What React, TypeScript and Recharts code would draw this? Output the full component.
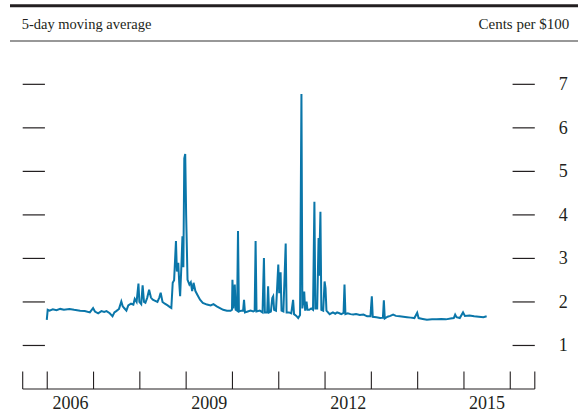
import { LineChart, Line, XAxis, YAxis, ReferenceLine } from "recharts";

const years = [
  2005.99, 2006.01, 2006.05, 2006.12, 2006.2, 2006.28, 2006.36, 2006.48, 2006.58, 2006.71,
  2006.81, 2006.92, 2006.99, 2007.03, 2007.1, 2007.17, 2007.23, 2007.28, 2007.35, 2007.41,
  2007.45, 2007.49, 2007.55, 2007.6, 2007.63, 2007.67, 2007.71, 2007.75, 2007.81, 2007.86,
  2007.89, 2007.93, 2007.97, 2007.99, 2008.03, 2008.06, 2008.09, 2008.12, 2008.16, 2008.2,
  2008.24, 2008.28, 2008.32, 2008.38, 2008.42, 2008.45, 2008.49, 2008.54, 2008.6, 2008.65,
  2008.68, 2008.71, 2008.74, 2008.78, 2008.8, 2008.83, 2008.85, 2008.87, 2008.9, 2008.92,
  2008.94, 2008.96, 2008.98, 2009.0, 2009.03, 2009.07, 2009.1, 2009.13, 2009.16, 2009.2,
  2009.25, 2009.3, 2009.36, 2009.45, 2009.53, 2009.59, 2009.66, 2009.73, 2009.8, 2009.88,
  2009.96, 2009.99, 2010.0, 2010.02, 2010.05, 2010.07, 2010.1, 2010.12, 2010.14, 2010.19,
  2010.23, 2010.25, 2010.27, 2010.33, 2010.39, 2010.45, 2010.48, 2010.5, 2010.52, 2010.59,
  2010.65, 2010.68, 2010.7, 2010.75, 2010.77, 2010.79, 2010.83, 2010.86, 2010.88, 2010.9,
  2010.94, 2010.99, 2011.01, 2011.04, 2011.06, 2011.1, 2011.15, 2011.17, 2011.22, 2011.27,
  2011.31, 2011.33, 2011.38, 2011.42, 2011.46, 2011.49, 2011.51, 2011.55, 2011.57, 2011.6,
  2011.62, 2011.66, 2011.7, 2011.74, 2011.77, 2011.79, 2011.83, 2011.86, 2011.87, 2011.9,
  2011.92, 2011.96, 2011.99, 2012.01, 2012.03, 2012.1, 2012.17, 2012.22, 2012.26, 2012.31,
  2012.35, 2012.4, 2012.42, 2012.44, 2012.49, 2012.55, 2012.61, 2012.67, 2012.75, 2012.83,
  2012.91, 2012.98, 2013.01, 2013.03, 2013.11, 2013.19, 2013.25, 2013.27, 2013.29, 2013.35,
  2013.41, 2013.47, 2013.53, 2013.61, 2013.69, 2013.77, 2013.85, 2013.93, 2013.99, 2014.02,
  2014.11, 2014.2, 2014.31, 2014.41, 2014.51, 2014.61, 2014.71, 2014.78, 2014.81, 2014.84,
  2014.91, 2014.98, 2015.02, 2015.12, 2015.22, 2015.32, 2015.42, 2015.49,
];

const cents = [
  1.59, 1.82, 1.8, 1.83, 1.81, 1.84, 1.82, 1.84, 1.82, 1.8,
  1.79, 1.76, 1.86, 1.78, 1.74, 1.79, 1.77, 1.79, 1.74, 1.67,
  1.76, 1.79, 1.84, 2.01, 1.9, 1.85, 1.8, 1.92, 1.96, 1.94,
  2.07, 2.0, 2.42, 2.0, 1.95, 2.38, 2.0, 1.98, 2.1, 2.28,
  2.1, 2.05, 2.03, 2.0, 2.1, 2.21, 2.0, 1.96, 1.92, 1.88,
  1.86, 2.44, 2.5, 3.4, 2.7, 2.9, 2.45, 2.13, 2.9, 3.51,
  2.8, 5.3, 5.4, 4.0, 2.51, 2.4, 2.45, 2.25, 2.44, 2.25,
  2.15, 2.05, 1.98, 1.94, 1.92, 1.95, 1.9, 1.86, 1.82, 1.8,
  1.8, 1.82, 2.51, 1.85, 2.4, 1.82, 1.8, 3.63, 1.78, 1.8,
  1.8, 2.05, 1.76, 1.78, 1.8, 1.78, 1.8, 3.4, 1.78, 1.8,
  1.76, 3.01, 1.76, 1.76, 2.36, 1.76, 1.78, 2.09, 2.13, 1.82,
  1.8, 2.86, 2.2, 2.68, 1.8, 1.78, 3.34, 1.76, 1.76, 1.74,
  2.05, 1.72, 1.68, 1.63, 1.7, 6.78, 1.85, 2.24, 1.8, 2.01,
  1.82, 1.82, 1.85, 1.82, 4.3, 1.85, 1.85, 3.47, 2.6, 4.07,
  1.82, 1.8, 2.47, 2.32, 1.8, 1.72, 1.76, 1.73, 1.76, 1.74,
  1.72, 1.75, 2.4, 1.72, 1.74, 1.72, 1.71, 1.72, 1.7, 1.71,
  1.67, 1.67, 2.13, 1.66, 1.65, 1.63, 1.64, 2.04, 1.62, 1.66,
  1.68, 1.71, 1.68, 1.67, 1.66, 1.65, 1.64, 1.63, 1.75, 1.63,
  1.61, 1.59, 1.6, 1.6, 1.61, 1.6, 1.62, 1.63, 1.71, 1.65,
  1.63, 1.76, 1.68, 1.69, 1.67, 1.66, 1.65, 1.67,
];

const yearLabels = [2006, 2009, 2012, 2015];
const yearTicks = [2006, 2007, 2008, 2009, 2010, 2011, 2012, 2013, 2014, 2015, 2016];
const valueTicks = [1, 2, 3, 4, 5, 6, 7];

const X_MIN = 2005.47;
const X_MAX = 2016.53;
const INK = "#231f20";
const LINE = "#0a76a9";
const FONT = '"Liberation Serif", "Times New Roman", serif';

const data = years.map((year, i) => ({ year, cents: cents[i] }));

function YearTick({ x, y, payload }: any) {
  return (
    <text x={x} y={y} dy={20} textAnchor="middle" fontFamily={FONT} fontSize={18} fill={INK}>
      {Math.floor(payload.value)}
    </text>
  );
}

function ValueTick({ x, y, payload }: any) {
  return (
    <text x={x} y={y} dy={6} textAnchor="start" fontFamily={FONT} fontSize={18} fill={INK}>
      {payload.value}
    </text>
  );
}

export default function App() {
  return (
    <div style={{ position: "absolute", left: 0, top: 0, width: 579, height: 415, background: "#fff" }}>
      <svg width={579} height={415} style={{ position: "absolute", left: 0, top: 0 }}>
        <line x1={10} x2={578} y1={5.7} y2={5.7} stroke={INK} strokeWidth={3} />
        <line x1={10} x2={578} y1={41} y2={41} stroke="#333" strokeWidth={1.2} />
        <text x={21.7} y={29.3} fontFamily={FONT} fontSize={14.5} fill={INK}>
          5-day moving average
        </text>
        <text x={569.3} y={29.3} textAnchor="end" fontFamily={FONT} fontSize={15} fill={INK}>
          Cents per $100
        </text>
      </svg>
      <div style={{ position: "absolute", left: 0, top: 0 }}>
        <LineChart
          width={579}
          height={415}
          data={data}
          margin={{ top: 40.8, right: 0, bottom: 0, left: 22.7 }}
        >
          <XAxis
            dataKey="year"
            type="number"
            domain={[X_MIN, X_MAX]}
            ticks={yearLabels.map((y) => y + 0.5)}
            interval={0}
            height={26}
            tickLine={false}
            tickSize={0}
            tickMargin={0}
            axisLine={{ stroke: INK, strokeWidth: 1.2 }}
            tick={<YearTick />}
          />
          <YAxis
            orientation="right"
            type="number"
            domain={[0, 8]}
            ticks={valueTicks}
            interval={0}
            width={44.2}
            axisLine={false}
            tickLine={false}
            tickSize={0}
            tickMargin={24}
            tick={<ValueTick />}
          />
          {[X_MIN, ...yearTicks, X_MAX].map((t) => (
            <ReferenceLine
              key={`t${t}`}
              segment={[
                { x: t, y: 0 },
                { x: t, y: 0.4 },
              ]}
              stroke={INK}
              strokeWidth={1.1}
            />
          ))}
          {valueTicks.map((v) => (
            <ReferenceLine
              key={`l${v}`}
              segment={[
                { x: X_MIN, y: v },
                { x: 2005.95, y: v },
              ]}
              stroke={INK}
              strokeWidth={1.2}
            />
          ))}
          {valueTicks.map((v) => (
            <ReferenceLine
              key={`r${v}`}
              segment={[
                { x: 2016.05, y: v },
                { x: X_MAX, y: v },
              ]}
              stroke={INK}
              strokeWidth={1.2}
            />
          ))}
          <Line
            type="linear"
            dataKey="cents"
            stroke={LINE}
            strokeWidth={2}
            dot={false}
            isAnimationActive={false}
          />
        </LineChart>
      </div>
    </div>
  );
}
